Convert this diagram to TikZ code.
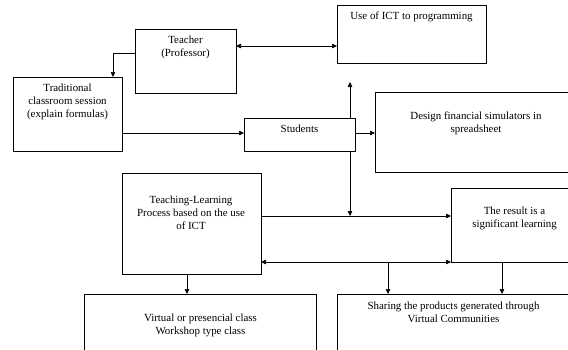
\documentclass[tikz,border=0pt]{standalone}
\usepackage{fontspec}
\setmainfont{Liberation Serif}
\usetikzlibrary{positioning,arrows.meta}

\begin{document}
\begin{tikzpicture}[
	x=1pt, y=-1pt,
	line width=0.6pt,
	mybox/.style={draw, rectangle, anchor=north west, inner sep=0pt, outer sep=0pt},
	mytext/.style={align=center, inner sep=0pt, anchor=north, font=\fontsize{10.9}{13}\selectfont},
	arr/.style={-{Triangle[length=5pt,width=4.5pt]}},
	darr/.style={{Triangle[length=5pt,width=4.5pt]}-{Triangle[length=5pt,width=4.5pt]}}
	]
	\clip (0,0) rectangle (568,349);
	
	\node[mybox, minimum width=101pt, minimum height=64pt] (teacher) at (135,29) {};
	\node[mytext, below=7pt of teacher.north] (teachert) {Teacher\\(Professor)};
	\node[mybox, minimum width=149pt, minimum height=58pt] (ict) at (337,5) {};
	\node[mytext, below=7pt of ict.north] (ictt) {Use of ICT to programming};
	
	\node[mybox, minimum width=109pt, minimum height=74pt] (trad) at (13,77) {};
	\node[mytext, below=7pt of trad.north] (tradt) {Traditional\\classroom session\\(explain formulas)};
	\node[mybox, minimum width=111pt, minimum height=33pt] (stud) at (244,118) {};
	\node[mytext, below=7pt of stud.north] (studt) {Students};
	\node[mybox, minimum width=230pt, minimum height=80pt] (design) at (375,92) {};
	\node[mytext] (designt) at (476,112) {Design financial simulators  in\\spreadsheet};
	
	\node[mybox, minimum width=139pt, minimum height=101pt] (tl) at (122,173) {};
	\node[mytext] (tlt) at (191,196) {Teaching-Learning\\Process based on the use\\of ICT};
	\node[mybox, minimum width=150pt, minimum height=74pt] (result) at (451,188) {};
	\node[mytext] (resultt) at (514.5,207) {The result is a\\significant learning};
	
	\node[mybox, minimum width=232pt, minimum height=80pt] (virt) at (84,294) {};
	\node[mytext] (virtt) at (200.5,314) {Virtual or presencial class\\Workshop type class};
	\node[mybox, minimum width=260pt, minimum height=80pt] (share) at (337,294) {};
	\node[mytext] (sharet) at (453.5,302) {Sharing the products generated through\\Virtual Communities};
	
	\coordinate (up) at (350,82);
	\coordinate (join) at (350,216);
	\coordinate (fork) at (388,262);
	
	% connectors
	\draw[darr] ([yshift=-17pt]teacher.north east) -- ([yshift=-17pt]teacher.north east -| ict.west);
	\draw[arr] ([yshift=-24pt]teacher.north west) -| ([xshift=100pt]trad.north west);
	\draw[arr] ([yshift=-56pt]trad.north east) -- ([yshift=-56pt]trad.north east -| stud.west);
	\draw[arr] (stud.north -| up) -- (up);
	\draw[arr] (stud.east |- 0,133) -- (design.west |- 0,133);
	\draw[arr] (stud.south -| join) -- (join);
	\draw[arr] (tl.east |- join) -- (result.west |- join);
	\draw[darr] ([yshift=-89pt]tl.north east) -- (result.south west);
	\draw[arr] (fork) -- (share.north -| fork);
	\draw[arr] (result.south -| 502,0) -- (share.north -| 502,0);
	\draw[arr] (tl.south -| 187,0) -- (virt.north -| 187,0);
\end{tikzpicture}
\end{document}
